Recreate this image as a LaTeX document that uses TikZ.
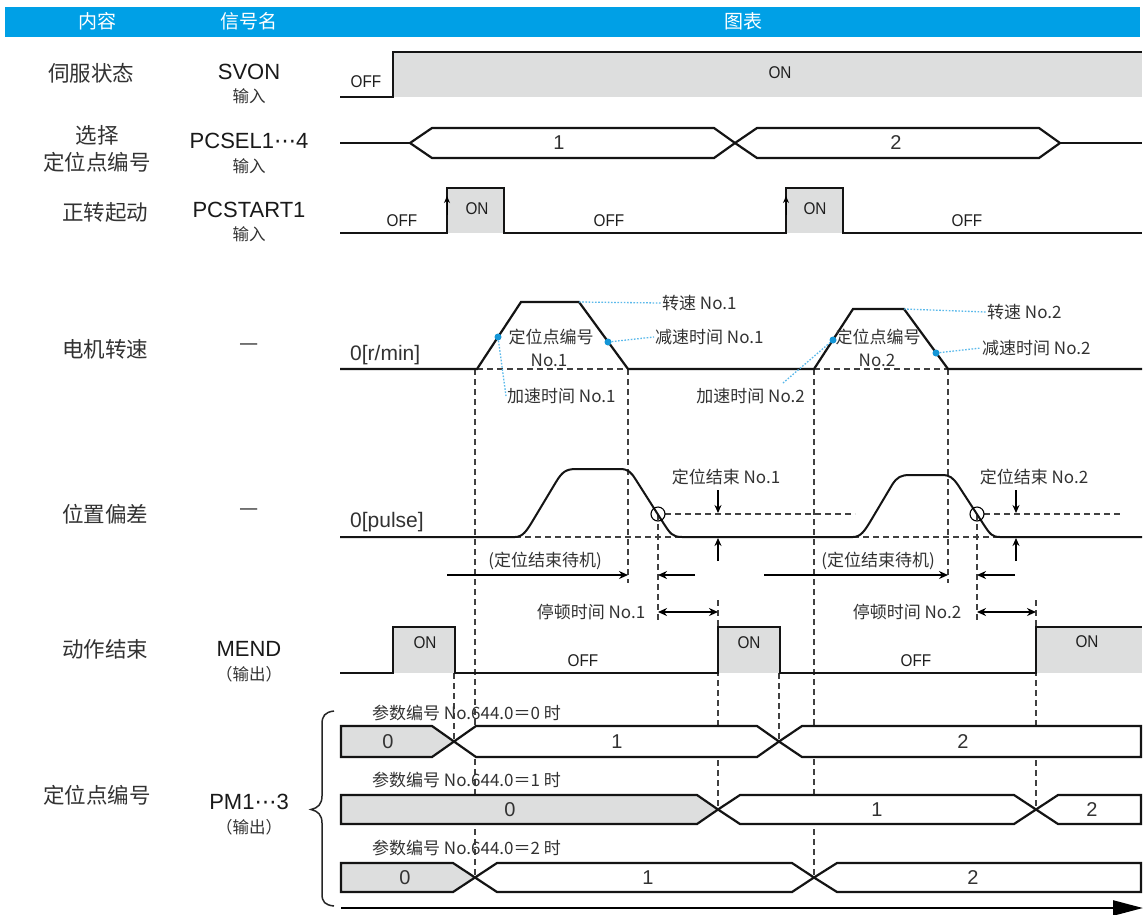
\documentclass[tikz,border=0pt]{standalone}
\usepackage{fontspec}
\setmainfont{Liberation Sans}
\newfontfamily\cjk{Noto Sans CJK SC}
\newfontfamily\djv{DejaVu Sans}
\newfontfamily\narrowf{Liberation Sans}[FakeStretch=0.9]
\usetikzlibrary{arrows.meta}
\definecolor{hdr}{RGB}{0,160,230}
\definecolor{gfill}{RGB}{221,222,222}
\definecolor{dotblue}{RGB}{20,150,215}
\definecolor{leadblue}{RGB}{90,185,235}
\definecolor{txt}{RGB}{50,50,50}
\newcommand{\mydots}{{\djv ⋯}}
\begin{document}
\begin{tikzpicture}[x=1pt,y=-1pt,
  sig/.style={line width=2.2pt, line join=miter, draw=black!92},
  box/.style={sig, fill=white},
  gbox/.style={sig, fill=gfill},
  vd/.style={line width=1.1pt, dash pattern=on 6pt off 4pt, draw=black!75},
  hd/.style={line width=1.3pt, dash pattern=on 6pt off 4pt, draw=black!75},
  hdrtxt/.style={font=\cjk\fontsize{19}{22}\selectfont, text=white, inner sep=1pt},
  lbl/.style={font=\cjk\fontsize{21.5}{24}\selectfont, text=txt, inner sep=1pt},
  sname/.style={font=\fontsize{22}{24}\selectfont, text=black!90, inner sep=1pt},
  io/.style={font=\cjk\fontsize{16.5}{18}\selectfont, text=txt, inner sep=1pt},
  st/.style={font=\narrowf\fontsize{17}{19}\selectfont, text=black!88, inner sep=1pt},
  num/.style={font=\fontsize{20}{22}\selectfont, text=txt, inner sep=1pt},
  zlab/.style={font=\fontsize{21}{23}\selectfont, text=txt, inner sep=1pt},
  ann/.style={font=\cjk\fontsize{17}{19}\selectfont, text=txt, inner sep=1pt},
  bdot/.style={circle, fill=dotblue, inner sep=0pt, minimum size=7pt},
  lead/.style={draw=leadblue, line width=1.3pt, dash pattern=on 1.6pt off 1.6pt},
  arr/.style={line width=1.5pt, -{Stealth[length=9pt,width=8pt]}},
  darr/.style={line width=1.5pt, {Stealth[length=9pt,width=8pt]}-{Stealth[length=9pt,width=8pt]}},
  sarr/.style={line width=1.5pt, -{Stealth[length=8pt,width=7pt]}}
]
\useasboundingbox (0,0) rectangle (1144,914);
\fill[white] (0,0) rectangle (1144,914);

% ---------- header ----------
\fill[hdr] (5,7) rectangle (1140,37);
\node[hdrtxt] (h1) at (97,21) {内容};
\node[hdrtxt] (h2) at (249,21) {信号名};
\node[hdrtxt] (h3) at (743,21) {图表};

% ---------- left column ----------
\node[lbl] (l1) at (91,73) {伺服状态};
\node[lbl] (l2a) at (97,135) {选择};
\node[lbl] (l2b) at (97,162) {定位点编号};
\node[lbl] (l3) at (105,212) {正转起动};
\node[lbl] (l4) at (105,349) {电机转速};
\node[lbl] (l5) at (105,514) {位置偏差};
\node[lbl] (l6) at (105,649) {动作结束};
\node[lbl] (l7) at (97,795) {定位点编号};

\node[sname] (s1) at (249,72) {SVON};
\node[io] (s1b) at (249,96) {输入};
\node[sname] (s2) at (249,141) {PCSEL1\mydots4};
\node[io] (s2b) at (249,166) {输入};
\node[sname] (s3) at (249,210) {PCSTART1};
\node[io] (s3b) at (249,234) {输入};
\node[lbl] (s4) at (249,347) {—};
\node[lbl] (s5) at (249,512) {—};
\node[sname] (s6) at (249,649) {MEND};
\node[io] (s6b) at (249,674) {（输出）};
\node[sname] (s7) at (249,802) {PM1\mydots3};
\node[io] (s7b) at (249,827) {（输出）};

% ---------- dashed vertical guides ----------
\draw[vd] (454,673) -- (454,741.5);
\draw[vd] (475,369) -- (475,877.5);
\draw[vd] (628,369) -- (628,583);
\draw[vd] (658,514) -- (658,623);
\draw[vd] (718,600) -- (718,809.5);
\draw[vd] (779,673) -- (779,741.5);
\draw[vd] (814,369) -- (814,877.5);
\draw[vd] (948,369) -- (948,583);
\draw[vd] (977,514) -- (977,623);
\draw[vd] (1036,600) -- (1036,809.5);

% ---------- SVON ----------
\fill[gfill] (393,52) rectangle (1142,97);
\draw[sig] (340,97) -- (393,97) -- (393,52) -- (1142,52);
\node[st] (svoff) at (366,82) {OFF};
\node[st] (svon) at (780,73) {ON};

% ---------- PCSEL ----------
\draw[sig] (340,143) -- (410,143);
\draw[box] (410,143) -- (432,128) -- (714,128) -- (735,143) -- (714,158) -- (432,158) -- cycle;
\draw[box] (735,143) -- (757,128) -- (1039,128) -- (1060,143) -- (1039,158) -- (757,158) -- cycle;
\draw[sig] (1060,143) -- (1142,143);
\node[num] (p1) at (559,143) {1};
\node[num] (p2) at (896,143) {2};

% ---------- PCSTART ----------
\fill[gfill] (447,188) rectangle (504,233);
\fill[gfill] (786,188) rectangle (843,233);
\draw[sig] (340,233) -- (447,233) -- (447,188) -- (504,188) -- (504,233) -- (786,233) -- (786,188) -- (843,188) -- (843,233) -- (1142,233);
\draw[line width=1pt, -{Stealth[length=7pt,width=6pt]}] (447,215) -- (447,196);
\draw[line width=1pt, -{Stealth[length=7pt,width=6pt]}] (786,215) -- (786,196);
\node[st] (ps1) at (402,221) {OFF};
\node[st] (ps2) at (477,209) {ON};
\node[st] (ps3) at (609,221) {OFF};
\node[st] (ps4) at (815,209) {ON};
\node[st] (ps5) at (967,221) {OFF};

% ---------- motor speed ----------
\coordinate (m0) at (340,369);
\coordinate (m1) at (477,369);
\coordinate (m2) at (521,302);
\coordinate (m3) at (579,302);
\coordinate (m4) at (628,369);
\coordinate (m5) at (814,369);
\coordinate (m6) at (853,309);
\coordinate (m7) at (904,309);
\coordinate (m8) at (948,369);
\coordinate (m9) at (1142,369);
\draw[hd] (m1) -- (m4);
\draw[hd] (m5) -- (m8);
\draw[sig] (m0) -- (m1) -- (m2) -- (m3) -- (m4) -- (m5) -- (m6) -- (m7) -- (m8) -- (m9);
\node[zlab, anchor=west] (z1) at (349,355) {0[r/min]};

\node[ann] (t3) at (551,337) {定位点编号};
\node[ann] (t3b) at (549,360) {No.1};
\node[ann] (t5) at (878,337) {定位点编号};
\node[ann] (t5b) at (877,360) {No.2};
\node[ann, anchor=west] (t1) at (661,303) {转速 No.1};
\node[ann, anchor=west] (t2) at (654,337) {减速时间 No.1};
\node[ann, anchor=west] (t4) at (506,396) {加速时间 No.1};
\node[ann, anchor=east] (t6) at (806,396) {加速时间 No.2};
\node[ann, anchor=west] (t7) at (981,348) {减速时间 No.2};
\node[ann, anchor=west] (t8) at (986,312) {转速 No.2};
\coordinate (a2end) at (783,383);

\node[bdot] (d1) at (498,337) {};
\node[bdot] (d2) at (608,342) {};
\node[bdot] (d3) at (833,340) {};
\node[bdot] (d4) at (936,353) {};
\draw[lead] (m3) -- (t1.west);
\draw[lead] (d2) -- (t2.west);
\draw[lead] (d1) -- (t4.west);
\draw[lead] (d3) -- (a2end);
\draw[lead] (d4) -- (t7.west);
\draw[lead] (m7) -- (t8.west);

% ---------- position deviation ----------
\draw[hd] (515,537) -- (682,537);
\draw[hd] (853,537) -- (1000,537);
\draw[hd] (665,514) -- (855,514);
\draw[hd] (984,514) -- (1120,514);
\draw[sig, line width=2pt, line join=round] (340,537) -- (515,537)
  .. controls (523,537) and (527,530) .. (532,522) -- (556,482)
  .. controls (562,472) and (566,469) .. (576,469) -- (620,469)
  .. controls (628,469) and (631,472) .. (636,480) -- (664,524)
  .. controls (670,533) and (672,537) .. (682,537) -- (853,537)
  .. controls (861,537) and (865,530) .. (870,522) -- (892,485)
  .. controls (897,477) and (901,475) .. (910,475) -- (942,475)
  .. controls (950,475) and (953,478) .. (958,485) -- (984,525)
  .. controls (990,534) and (992,537) .. (1000,537) -- (1142,537);
\draw[line width=1.1pt] (658,514) circle[radius=7pt];
\draw[line width=1.1pt] (977,514) circle[radius=7pt];
\node[zlab, anchor=west] (z2) at (349,522) {0[pulse]};

\node[ann] (e1) at (726,477) {定位结束 No.1};
\node[ann] (e2) at (1034,477) {定位结束 No.2};
\draw[sarr] (718,490) -- (718,513);
\draw[sarr] (718,561) -- (718,538);
\draw[sarr] (1016,490) -- (1016,513);
\draw[sarr] (1016,561) -- (1016,538);

\node[ann] (w1) at (545,561) {(定位结束待机)};
\node[ann] (w2) at (878,561) {(定位结束待机)};
\draw[arr] (447,575) -- (628,575);
\draw[arr] (695,575) -- (658,575);
\draw[arr] (764,575) -- (948,575);
\draw[arr] (1015,575) -- (977,575);

\node[ann] (k1) at (591,612) {停顿时间 No.1};
\node[ann] (k2) at (907,612) {停顿时间 No.2};
\draw[darr] (658,612) -- (718,612);
\draw[darr] (977,612) -- (1036,612);

% ---------- MEND ----------
\fill[gfill] (393,627) rectangle (455,673);
\fill[gfill] (718,627) rectangle (780,673);
\fill[gfill] (1036,627) rectangle (1142,673);
\draw[sig] (340,673) -- (393,673) -- (393,627) -- (455,627) -- (455,673) -- (718,673) -- (718,627) -- (780,627) -- (780,673) -- (1036,673) -- (1036,627) -- (1142,627);
\node[st] (me1) at (425,643) {ON};
\node[st] (me2) at (583,661) {OFF};
\node[st] (me3) at (749,643) {ON};
\node[st] (me4) at (916,661) {OFF};
\node[st] (me5) at (1087,642) {ON};

% ---------- PM1...3 ----------
\node[ann, anchor=west] (c1) at (371,713) {参数编号 No.644.0＝0 时};
\node[ann, anchor=west] (c2) at (371,780) {参数编号 No.644.0＝1 时};
\node[ann, anchor=west] (c3) at (371,848) {参数编号 No.644.0＝2 时};

\draw[gbox] (341,726) -- (432,726) -- (454,741.5) -- (432,757) -- (341,757) -- cycle;
\draw[box] (454,741.5) -- (476,726) -- (757,726) -- (779,741.5) -- (757,757) -- (476,757) -- cycle;
\draw[box] (779,741.5) -- (802,726) -- (1141,726) -- (1141,757) -- (802,757) -- cycle;
\node[num] (ra0) at (388,741.5) {0};
\node[num] (ra1) at (617,741.5) {1};
\node[num] (ra2) at (963,741.5) {2};

\draw[gbox] (341,795) -- (697,795) -- (718,809.5) -- (697,824) -- (341,824) -- cycle;
\draw[box] (718,809.5) -- (740,795) -- (1014,795) -- (1036,809.5) -- (1014,824) -- (740,824) -- cycle;
\draw[box] (1036,809.5) -- (1058,795) -- (1141,795) -- (1141,824) -- (1058,824) -- cycle;
\node[num] (rb0) at (510,809.5) {0};
\node[num] (rb1) at (877,809.5) {1};
\node[num] (rb2) at (1092,809.5) {2};

\draw[gbox] (341,863) -- (453,863) -- (475,877.5) -- (453,892) -- (341,892) -- cycle;
\draw[box] (475,877.5) -- (497,863) -- (792,863) -- (814,877.5) -- (792,892) -- (497,892) -- cycle;
\draw[box] (814,877.5) -- (837,863) -- (1141,863) -- (1141,892) -- (837,892) -- cycle;
\node[num] (rc0) at (405,877.5) {0};
\node[num] (rc1) at (648,877.5) {1};
\node[num] (rc2) at (973,877.5) {2};

% brace
\draw[line width=1.5pt, black!85] (334,711) .. controls (325,712) and (322,716) .. (322,724) -- (322,796)
  .. controls (322,804) and (318,808) .. (311,809.5)
  .. controls (318,811) and (322,815) .. (322,823) -- (322,894)
  .. controls (322,902) and (325,905) .. (334,906);

% time axis
\coordinate (ta) at (341,908);
\coordinate (tb) at (1143,908);
\draw[line width=2.4pt, -{Triangle[length=30pt,width=15pt]}] (ta) -- (tb);
\end{tikzpicture}
\end{document}
